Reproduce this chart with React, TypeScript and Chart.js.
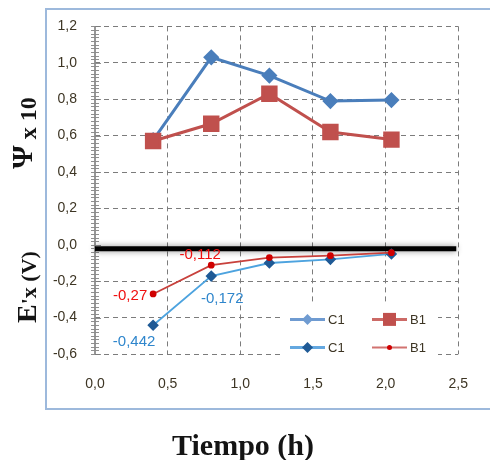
import { useEffect, useRef } from 'react';
import { Chart, registerables } from 'chart.js';

Chart.register(...registerables);

// Sampling times (h)
const tiempo = [0.4, 0.8, 1.2, 1.62, 2.04];
// Ψ x 10 series
const psiC1 = [0.575, 1.03, 0.93, 0.79, 0.795];
const psiB1 = [0.57, 0.665, 0.83, 0.62, 0.578];
// E'x (V) series
const exC1 = [-0.442, -0.172, -0.1, -0.08, -0.05];
const exB1 = [-0.27, -0.112, -0.07, -0.06, -0.043];
// Indices whose values are printed next to the point
const labeledC1 = [0, 1];
const labeledB1 = [0, 1];

const X_MIN = 0;
const X_MAX = 2.5;
const X_STEP = 0.5;
const Y_MIN = -0.6;
const Y_MAX = 1.2;
const Y_STEP = 0.2;
// lower panel's zero axis (thick black rule)
const ZERO_AXIS = -0.022;

const fmt = (v: number, digits?: number) => {
  if (Math.abs(v) < 1e-9) v = 0;
  const s = digits === undefined ? String(v) : v.toFixed(digits);
  return s.replace('.', ',');
};

const pts = (ys: number[]) => ys.map((y, i) => ({ x: tiempo[i], y }));

const TICK_COLOR = '#3d3524';
const GRID_COLOR = '#7c7c7c';
const SERIF = '"Liberation Serif", "DejaVu Serif", serif';
const SANS = '"Liberation Sans", Arial, sans-serif';

const decor = {
  id: 'decor',
  beforeDraw(chart: any) {
    const { ctx, width, height } = chart;
    ctx.save();
    ctx.fillStyle = '#ffffff';
    ctx.fillRect(0, 0, width, height);
    ctx.restore();
  },
  beforeDatasetsDraw(chart: any) {
    const { ctx, chartArea: ca, scales } = chart;
    const y = scales.y;
    const x = scales.x;
    ctx.save();
    // left axis with dense minor ticks
    ctx.strokeStyle = 'rgba(125,125,125,0.85)';
    ctx.lineWidth = 1;
    ctx.beginPath();
    const n = Math.round((Y_MAX - Y_MIN) / 0.02);
    for (let i = 0; i <= n; i++) {
      const py = Math.round(y.getPixelForValue(Y_MIN + i * 0.02)) + 0.5;
      const major = i % 10 === 0;
      ctx.moveTo(ca.left - 4, py);
      ctx.lineTo(ca.left + (major ? 6 : 4), py);
    }
    ctx.stroke();
    ctx.lineWidth = 2;
    ctx.strokeStyle = 'rgba(140,140,140,0.9)';
    ctx.beginPath();
    ctx.moveTo(ca.left, ca.top);
    ctx.lineTo(ca.left, ca.bottom);
    ctx.stroke();
    // zero axis of the lower panel
    const py0 = y.getPixelForValue(ZERO_AXIS);
    ctx.shadowColor = 'rgba(0,0,0,0.45)';
    ctx.shadowBlur = 6;
    ctx.strokeStyle = '#000000';
    ctx.lineWidth = 5;
    ctx.beginPath();
    ctx.moveTo(ca.left, py0);
    ctx.lineTo(x.getPixelForValue(X_MAX) - 2, py0);
    ctx.stroke();
    ctx.restore();
  },
  afterDatasetsDraw(chart: any) {
    const { ctx, chartArea: ca } = chart;
    ctx.save();
    // value labels on the lower series
    ctx.font = `15px ${SANS}`;
    ctx.textBaseline = 'middle';
    const drawLabels = (dsIndex: number, values: number[], idx: number[], color: string, offsets: number[][]) => {
      const meta = chart.getDatasetMeta(dsIndex);
      ctx.fillStyle = color;
      idx.forEach((i, k) => {
        const el = meta.data[i];
        const [dx, dy] = offsets[k];
        ctx.textAlign = 'center';
        ctx.fillText(fmt(values[i]), el.x + dx, el.y + dy);
      });
    };
    drawLabels(2, exC1, labeledC1, '#2f86cc', [[-19, 17], [11, 23]]);
    drawLabels(3, exB1, labeledB1, '#f01010', [[-23, 2], [-11, -10]]);

    // legend
    const lx = ca.left + 186;
    const ly = ca.top + 277;
    ctx.fillStyle = '#ffffff';
    ctx.fillRect(lx, ly, 157, 54);
    const row1 = ly + 16;
    const row2 = ly + 44;
    const diamond = (cx: number, cy: number, r: number, color: string) => {
      ctx.fillStyle = color;
      ctx.beginPath();
      ctx.moveTo(cx - r, cy);
      ctx.lineTo(cx, cy - r);
      ctx.lineTo(cx + r, cy);
      ctx.lineTo(cx, cy + r);
      ctx.closePath();
      ctx.fill();
    };
    const seg = (x0: number, cy: number, color: string, w: number) => {
      ctx.strokeStyle = color;
      ctx.lineWidth = w;
      ctx.beginPath();
      ctx.moveTo(x0, cy);
      ctx.lineTo(x0 + 35, cy);
      ctx.stroke();
    };
    const c1x = lx + 9;
    const b1x = lx + 91;
    seg(c1x, row1, '#6f9bd1', 3);
    diamond(c1x + 17.5, row1, 5.5, '#6f9bd1');
    seg(b1x, row1, '#cc6a66', 3);
    ctx.fillStyle = '#c0504d';
    ctx.fillRect(b1x + 11, row1 - 6.5, 13, 13);
    seg(c1x, row2, '#64a8e0', 3);
    diamond(c1x + 17.5, row2, 5.5, '#1f5a96');
    seg(b1x, row2, '#d27370', 2);
    ctx.fillStyle = '#d00000';
    ctx.beginPath();
    ctx.arc(b1x + 17.5, row2, 2.5, 0, Math.PI * 2);
    ctx.fill();
    ctx.font = `13px ${SANS}`;
    ctx.fillStyle = TICK_COLOR;
    ctx.textAlign = 'left';
    ctx.textBaseline = 'middle';
    ctx.fillText('C1', c1x + 38, row1 + 1);
    ctx.fillText('B1', b1x + 38, row1 + 1);
    ctx.fillText('C1', c1x + 38, row2 + 1);
    ctx.fillText('B1', b1x + 38, row2 + 1);
    ctx.restore();
  },
  afterDraw(chart: any) {
    const { ctx } = chart;
    ctx.save();
    // outer frame
    ctx.strokeStyle = '#9db9dc';
    ctx.lineWidth = 2;
    ctx.strokeRect(46, 9, 460, 400);
    // axis titles
    ctx.fillStyle = '#141414';
    ctx.textBaseline = 'alphabetic';
    ctx.textAlign = 'center';
    ctx.font = `bold 30px ${SERIF}`;
    ctx.fillText('Tiempo (h)', 243, 455);

    ctx.textAlign = 'left';
    // Ψ x 10
    ctx.save();
    ctx.translate(32, 133);
    ctx.rotate(-Math.PI / 2);
    ctx.font = `bold 30px ${SERIF}`;
    const wPsi = ctx.measureText('Ψ').width;
    ctx.font = `bold 24px ${SERIF}`;
    const wRest = ctx.measureText(' x 10').width;
    const start = -(wPsi + wRest) / 2;
    ctx.font = `bold 30px ${SERIF}`;
    ctx.fillText('Ψ', start, 0);
    ctx.font = `bold 24px ${SERIF}`;
    ctx.fillText(' x 10', start + wPsi, 4);
    ctx.restore();

    // E'x (V)
    ctx.save();
    ctx.translate(36, 287);
    ctx.rotate(-Math.PI / 2);
    ctx.font = `bold 28px ${SERIF}`;
    const wE = ctx.measureText('E').width;
    ctx.font = `bold 22px ${SERIF}`;
    const wR = ctx.measureText("'x (V)").width;
    const s2 = -(wE + wR) / 2;
    ctx.font = `bold 28px ${SERIF}`;
    ctx.fillText('E', s2, 0);
    ctx.font = `bold 22px ${SERIF}`;
    ctx.fillText("'x (V)", s2 + wE, 0);
    ctx.restore();
    ctx.restore();
  },
};

const gridColor = (c: any) =>
  c.tick && Math.abs(c.tick.value) < 1e-9 ? 'rgba(0,0,0,0)' : GRID_COLOR;

export default function App() {
  const ref = useRef<HTMLCanvasElement | null>(null);

  useEffect(() => {
    if (!ref.current) return;
    const chart = new Chart(ref.current, {
      type: 'line',
      data: {
        datasets: [
          {
            label: 'C1',
            data: pts(psiC1),
            borderColor: '#4a7ebb',
            backgroundColor: '#4a7ebb',
            borderWidth: 3,
            pointStyle: 'rectRot',
            pointRadius: 6,
            order: 1,
          },
          {
            label: 'B1',
            data: pts(psiB1),
            borderColor: '#c0504d',
            backgroundColor: '#c0504d',
            borderWidth: 3,
            pointStyle: 'rect',
            pointRadius: 9.5,
            order: 0,
          },
          {
            label: 'C1',
            data: pts(exC1),
            borderColor: '#4da3df',
            backgroundColor: '#1f5a96',
            pointBorderColor: '#1f5a96',
            borderWidth: 1.8,
            pointStyle: 'rectRot',
            pointRadius: 4.5,
            order: 3,
          },
          {
            label: 'B1',
            data: pts(exB1),
            borderColor: '#c8413c',
            backgroundColor: '#d00000',
            pointBorderColor: '#d00000',
            borderWidth: 1.8,
            pointStyle: 'circle',
            pointRadius: 2.5,
            order: 2,
          },
        ],
      },
      options: {
        responsive: false,
        animation: false,
        devicePixelRatio: 1,
        layout: { padding: { left: 0, right: 29, top: 21, bottom: 0 } },
        plugins: {
          legend: { display: false },
          tooltip: { enabled: false },
        },
        scales: {
          x: {
            type: 'linear',
            min: X_MIN,
            max: X_MAX,
            ticks: {
              stepSize: X_STEP,
              color: TICK_COLOR,
              font: { family: SANS, size: 14 },
              padding: 22,
              maxRotation: 0,
              callback: (v: any) => fmt(Number(v), 1),
            },
            grid: {
              color: gridColor,
              lineWidth: 1,
              drawTicks: false,
            },
            border: { display: false, dash: [5, 4] },
            afterFit: (s: any) => {
              s.height = 106;
            },
          },
          y: {
            type: 'linear',
            min: Y_MIN,
            max: Y_MAX,
            ticks: {
              stepSize: Y_STEP,
              color: TICK_COLOR,
              font: { family: SANS, size: 14 },
              padding: 18,
              callback: (v: any) => fmt(Number(v), 1),
            },
            grid: {
              color: gridColor,
              lineWidth: 1,
              drawTicks: false,
            },
            border: { display: false, dash: [5, 4] },
            afterFit: (s: any) => {
              s.width = 95;
            },
          },
        },
      },
      plugins: [decor],
    });
    return () => chart.destroy();
  }, []);

  return (
    <div style={{ position: 'fixed', left: 0, top: 0, width: 490, height: 460, background: '#fff' }}>
      <canvas ref={ref} width={490} height={460} style={{ display: 'block' }} />
    </div>
  );
}
